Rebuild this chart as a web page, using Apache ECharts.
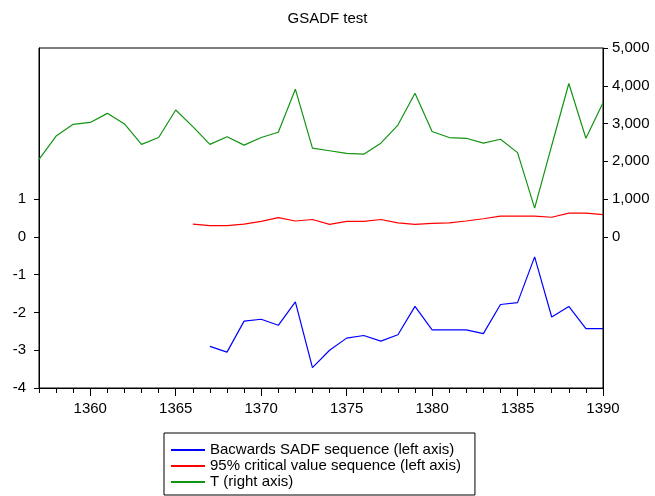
<!DOCTYPE html>
<html>
<head>
<meta charset="utf-8">
<script src="https://cdn.jsdelivr.net/npm/echarts@6/dist/echarts.min.js"></script>
<style>
html,body{margin:0;padding:0;background:#fff;}
#c{width:655px;height:496px;}
</style>
</head>
<body>
<div id="c"></div>
<script>
const years = [1357,1358,1359,1360,1361,1362,1363,1364,1365,1366,1367,1368,1369,1370,1371,1372,1373,1374,1375,1376,1377,1378,1379,1380,1381,1382,1383,1384,1385,1386,1387,1388,1389,1390];
const bsadf = [null,null,null,null,null,null,null,null,null,null,-2.90,-3.05,-2.23,-2.18,-2.34,-1.72,-3.46,-3.00,-2.68,-2.61,-2.76,-2.59,-1.84,-2.46,-2.46,-2.46,-2.56,-1.79,-1.74,-0.53,-2.12,-1.84,-2.43,-2.43];
const cv95 = [null,null,null,null,null,null,null,null,null,0.34,0.30,0.30,0.34,0.41,0.51,0.42,0.46,0.33,0.41,0.41,0.46,0.37,0.33,0.36,0.37,0.42,0.48,0.55,0.55,0.55,0.52,0.63,0.63,0.59];
const tSeries = [2050,2670,2980,3030,3270,2990,2450,2630,3360,2920,2450,2650,2430,2630,2770,3910,2350,2280,2210,2190,2480,2960,3800,2790,2630,2610,2480,2585,2230,760,2420,4060,2610,3550];
const xMajor = [1360,1365,1370,1375,1380,1385,1390];
const leftTicks = [-4,-3,-2,-1,0,1];
const rightTicks = [0,1000,2000,3000,4000,5000];
const seriesNames = ['Bacwards SADF sequence (left axis)','95% critical value sequence (left axis)','T (right axis)'];

const pairs = arr => years.map((y,i) => [y, arr[i]]);
const font = 'Arial, "Liberation Sans", sans-serif';
const fs = 15;

const chart = echarts.init(document.getElementById('c'));
chart.setOption({
  animation: false,
  backgroundColor: '#fff',
  title: {
    text: 'GSADF test', left: 'center', top: 6,
    textStyle: {fontFamily: font, fontSize: fs, fontWeight: 'normal', color: '#000'}
  },
  grid: {left: 39, right: 52, top: 48, bottom: 108, show: true, borderColor: '#000', borderWidth: 1, backgroundColor: 'transparent'},
  legend: {
    orient: 'vertical', left: 164, top: 433,
    borderColor: '#000', borderWidth: 1, padding: [9, 14, 5, 7],
    itemWidth: 34, itemHeight: 2, itemGap: 0, icon: 'rect',
    textStyle: {fontFamily: font, fontSize: fs, color: '#000', lineHeight: 16},
    data: seriesNames
  },
  xAxis: [{
    type: 'value', min: 1357, max: 1390, interval: 1,
    axisLine: {onZero: false, lineStyle: {color: '#000', width: 1}},
    axisTick: {length: 5, lineStyle: {color: '#000'}},
    axisLabel: {margin: 13, fontFamily: font, fontSize: fs, color: '#000', customValues: xMajor, formatter: v => String(v)},
    splitLine: {show: false}
  }, {
    type: 'value', min: 1357, max: 1390, position: 'bottom',
    axisLine: {show: false, onZero: false},
    axisTick: {length: 8, lineStyle: {color: '#000'}, customValues: xMajor},
    axisLabel: {show: false},
    splitLine: {show: false}
  }],
  yAxis: [{
    type: 'value', min: -4, max: 5, interval: 1, position: 'left',
    axisLine: {show: true, onZero: false, lineStyle: {color: '#000'}},
    axisTick: {show: true, length: 5, lineStyle: {color: '#000'}, customValues: leftTicks},
    axisLabel: {margin: 13, fontFamily: font, fontSize: fs, color: '#000', customValues: leftTicks, formatter: v => String(v)},
    splitLine: {show: false}
  }, {
    type: 'value', min: -4000, max: 5000, interval: 1000, position: 'right',
    axisLine: {show: true, onZero: false, lineStyle: {color: '#000'}},
    axisTick: {show: true, length: 5, lineStyle: {color: '#000'}, customValues: rightTicks},
    axisLabel: {margin: 9, fontFamily: font, fontSize: fs, color: '#000', customValues: rightTicks,
      formatter: v => v.toLocaleString('en-US')},
    splitLine: {show: false}
  }],
  series: [{
    name: seriesNames[0], type: 'line', xAxisIndex: 0, yAxisIndex: 0, data: pairs(bsadf),
    showSymbol: false, symbol: 'none', lineStyle: {color: '#0000ff', width: 1.2}, itemStyle: {color: '#0000ff'}
  }, {
    name: seriesNames[1], type: 'line', xAxisIndex: 0, yAxisIndex: 0, data: pairs(cv95),
    showSymbol: false, symbol: 'none', lineStyle: {color: '#ff0000', width: 1.2}, itemStyle: {color: '#ff0000'}
  }, {
    name: seriesNames[2], type: 'line', xAxisIndex: 0, yAxisIndex: 1, data: pairs(tSeries),
    showSymbol: false, symbol: 'none', lineStyle: {color: '#129412', width: 1.2}, itemStyle: {color: '#129412'}
  }]
});
</script>
</body>
</html>
